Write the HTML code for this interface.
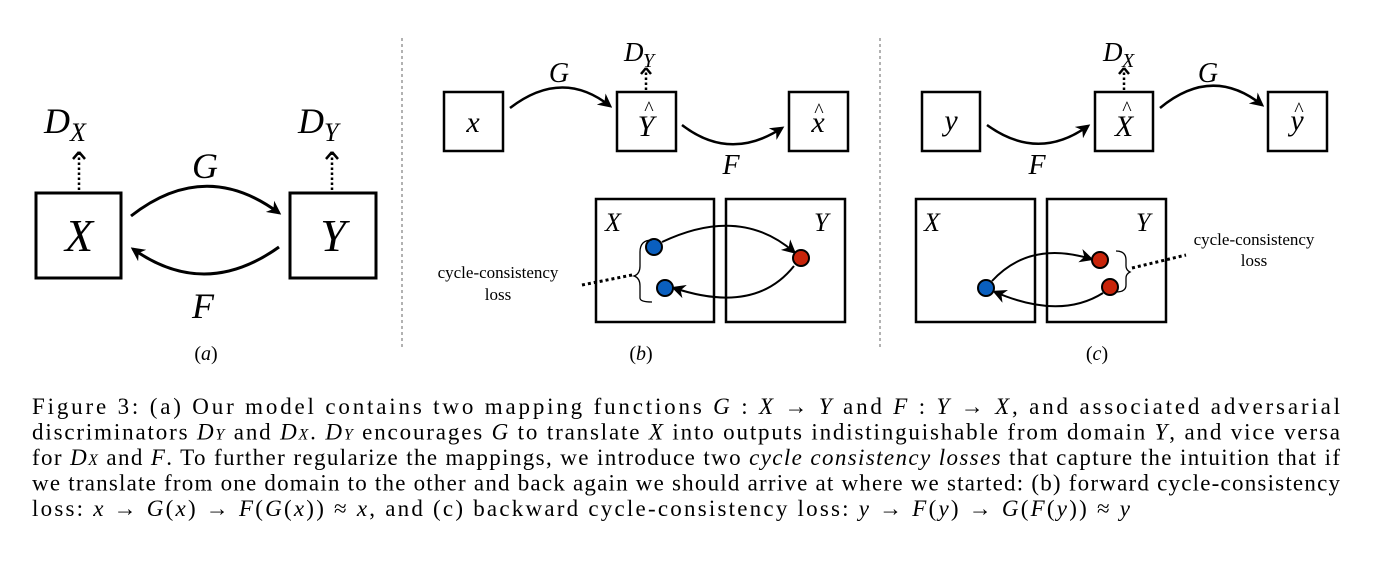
<!DOCTYPE html>
<html><head><meta charset="utf-8"><style>
html,body{margin:0;padding:0;background:#fff;}
svg{display:block;}
.m{font-family:"Liberation Serif",serif;font-style:italic;}
.r{font-family:"Liberation Serif",serif;}
</style></head><body>
<svg width="1374" height="568" viewBox="0 0 1374 568" xmlns="http://www.w3.org/2000/svg">
<defs>
<marker id="ah2" viewBox="0 0 10 10" refX="8" refY="5" markerWidth="14" markerHeight="14" orient="auto" markerUnits="userSpaceOnUse">
<path d="M0,0 L10,5 L0,10 L3,5 Z" fill="#000"/>
</marker>
</defs>
<g fill="none" stroke="#000">
<line x1="402" y1="38" x2="402" y2="350" stroke="#666" stroke-width="1" stroke-dasharray="3,3"/>
<line x1="880" y1="38" x2="880" y2="350" stroke="#666" stroke-width="1" stroke-dasharray="3,3"/>
<rect x="36" y="193" width="85" height="85" stroke-width="3"/>
<rect x="290" y="193" width="86" height="85" stroke-width="3"/>
<line x1="79" y1="190" x2="79" y2="150" stroke-width="2.5" stroke-dasharray="2.5,2.5"/>
<line x1="332" y1="190" x2="332" y2="150" stroke-width="2.5" stroke-dasharray="2.5,2.5"/>
<path d="M79,152 l-6,7 M79,152 l6,7 M332,152 l-6,7 M332,152 l6,7" stroke-width="2.5"/>
<path d="M131,216 Q205,158 279,213" stroke-width="3" marker-end="url(#ah2)"/>
<path d="M279,247 Q205,300 133,249" stroke-width="3" marker-end="url(#ah2)"/>
<rect x="444" y="92" width="59" height="59" stroke-width="2.5"/>
<rect x="617" y="92" width="59" height="59" stroke-width="2.5"/>
<rect x="789" y="92" width="59" height="59" stroke-width="2.5"/>
<line x1="646" y1="90" x2="646" y2="70" stroke-width="2.5" stroke-dasharray="2.5,2.5"/>
<path d="M646,68 l-5,6 M646,68 l5,6" stroke-width="2.5"/>
<path d="M510,108 Q562,68 610,106" stroke-width="2.5" marker-end="url(#ah2)"/>
<path d="M682,125 Q730,162 782,128" stroke-width="2.5" marker-end="url(#ah2)"/>
<rect x="596" y="199" width="118" height="123" stroke-width="2.5"/>
<rect x="726" y="199" width="119" height="123" stroke-width="2.5"/>
<path d="M662,242 Q740,205 794,252" stroke-width="2" marker-end="url(#ah2)"/>
<path d="M794,266 Q755,315 674,288" stroke-width="2" marker-end="url(#ah2)"/>
<circle cx="654" cy="247" r="8" fill="#0a5fbf" stroke-width="2"/>
<circle cx="801" cy="258" r="8" fill="#c8240a" stroke-width="2"/>
<circle cx="665" cy="288" r="8" fill="#0a5fbf" stroke-width="2"/>
<path d="M652,240 Q640,240 640,252 L640,266 Q640,274 634,276 Q640,278 640,286 L640,298 Q640,302 652,302" stroke-width="1.3"/>
<line x1="582" y1="285" x2="632" y2="275" stroke-width="3" stroke-dasharray="3,3"/>
<rect x="922" y="92" width="58" height="59" stroke-width="2.5"/>
<rect x="1095" y="92" width="58" height="59" stroke-width="2.5"/>
<rect x="1268" y="92" width="59" height="59" stroke-width="2.5"/>
<line x1="1124" y1="90" x2="1124" y2="70" stroke-width="2.5" stroke-dasharray="2.5,2.5"/>
<path d="M1124,68 l-5,6 M1124,68 l5,6" stroke-width="2.5"/>
<path d="M987,125 Q1038,162 1088,126" stroke-width="2.5" marker-end="url(#ah2)"/>
<path d="M1160,108 Q1212,65 1262,105" stroke-width="2.5" marker-end="url(#ah2)"/>
<rect x="916" y="199" width="119" height="123" stroke-width="2.5"/>
<rect x="1047" y="199" width="119" height="123" stroke-width="2.5"/>
<path d="M992,281 Q1030,240 1091,259" stroke-width="2" marker-end="url(#ah2)"/>
<path d="M1103,293 Q1060,320 995,292" stroke-width="2" marker-end="url(#ah2)"/>
<circle cx="986" cy="288" r="8" fill="#0a5fbf" stroke-width="2"/>
<circle cx="1100" cy="260" r="8" fill="#c8240a" stroke-width="2"/>
<circle cx="1110" cy="287" r="8" fill="#c8240a" stroke-width="2"/>
<path d="M1116,251 Q1126,251 1126,260 L1126,266 Q1126,270 1130,272 Q1126,274 1126,278 L1126,285 Q1126,292 1116,292" stroke-width="1.3"/>
<line x1="1132" y1="268" x2="1186" y2="255" stroke-width="3" stroke-dasharray="3,3"/>
</g>
<text class="m" x="44" y="133" font-size="36">D</text><text class="m" x="70" y="141" font-size="26">X</text>
<text class="m" x="298" y="133" font-size="36">D</text><text class="m" x="324" y="141" font-size="26">Y</text>
<text class="m" x="205" y="178" font-size="36" text-anchor="middle">G</text>
<text class="m" x="203" y="318" font-size="36" text-anchor="middle">F</text>
<text class="m" x="79" y="251" font-size="46" text-anchor="middle">X</text>
<text class="m" x="333" y="251" font-size="46" text-anchor="middle">Y</text>
<text class="r" x="206" y="360" font-size="20" text-anchor="middle">(<tspan font-style="italic">a</tspan>)</text>
<text class="m" x="473" y="132" font-size="30" text-anchor="middle">x</text>
<text class="m" x="646" y="136" font-size="30" text-anchor="middle">Y</text>
<text class="r" x="649" y="115" font-size="20" text-anchor="middle">^</text>
<text class="m" x="818" y="132" font-size="30" text-anchor="middle">x</text>
<text class="r" x="819" y="117" font-size="20" text-anchor="middle">^</text>
<text class="m" x="624" y="61" font-size="27">D</text><text class="m" x="643" y="67" font-size="20">Y</text>
<text class="m" x="559" y="82" font-size="28" text-anchor="middle">G</text>
<text class="m" x="731" y="174" font-size="28" text-anchor="middle">F</text>
<text class="m" x="605" y="231" font-size="26">X</text>
<text class="m" x="814" y="231" font-size="26">Y</text>
<text class="r" x="498" y="278" font-size="17" text-anchor="middle">cycle-consistency</text>
<text class="r" x="498" y="300" font-size="17" text-anchor="middle">loss</text>
<text class="r" x="641" y="360" font-size="20" text-anchor="middle">(<tspan font-style="italic">b</tspan>)</text>
<text class="m" x="951" y="130" font-size="30" text-anchor="middle">y</text>
<text class="m" x="1124" y="136" font-size="30" text-anchor="middle">X</text>
<text class="r" x="1127" y="115" font-size="20" text-anchor="middle">^</text>
<text class="m" x="1297" y="130" font-size="30" text-anchor="middle">y</text>
<text class="r" x="1299" y="116" font-size="20" text-anchor="middle">^</text>
<text class="m" x="1103" y="61" font-size="27">D</text><text class="m" x="1122" y="67" font-size="20">X</text>
<text class="m" x="1208" y="82" font-size="28" text-anchor="middle">G</text>
<text class="m" x="1037" y="174" font-size="28" text-anchor="middle">F</text>
<text class="m" x="924" y="231" font-size="26">X</text>
<text class="m" x="1136" y="231" font-size="26">Y</text>
<text class="r" x="1254" y="245" font-size="17" text-anchor="middle">cycle-consistency</text>
<text class="r" x="1254" y="266" font-size="17" text-anchor="middle">loss</text>
<text class="r" x="1097" y="360" font-size="20" text-anchor="middle">(<tspan font-style="italic">c</tspan>)</text>
<g class="r" font-size="23">
<text x="32" y="414" textLength="1308" lengthAdjust="spacing">Figure 3: (a) Our model contains two mapping functions <tspan font-style="italic">G</tspan> : <tspan font-style="italic">X</tspan> → <tspan font-style="italic">Y</tspan> and <tspan font-style="italic">F</tspan> : <tspan font-style="italic">Y</tspan> → <tspan font-style="italic">X</tspan>, and associated adversarial</text>
<text x="32" y="439.5" textLength="1308" lengthAdjust="spacing">discriminators <tspan font-style="italic">D</tspan><tspan font-style="italic" font-size="16">Y</tspan> and <tspan font-style="italic">D</tspan><tspan font-style="italic" font-size="16">X</tspan>. <tspan font-style="italic">D</tspan><tspan font-style="italic" font-size="16">Y</tspan> encourages <tspan font-style="italic">G</tspan> to translate <tspan font-style="italic">X</tspan> into outputs indistinguishable from domain <tspan font-style="italic">Y</tspan>, and vice versa</text>
<text x="32" y="465" textLength="1308" lengthAdjust="spacing">for <tspan font-style="italic">D</tspan><tspan font-style="italic" font-size="16">X</tspan> and <tspan font-style="italic">F</tspan>. To further regularize the mappings, we introduce two <tspan font-style="italic">cycle consistency losses</tspan> that capture the intuition that if</text>
<text x="32" y="490.5" textLength="1308" lengthAdjust="spacing">we translate from one domain to the other and back again we should arrive at where we started: (b) forward cycle-consistency</text>
<text x="32" y="516" textLength="1098" lengthAdjust="spacing">loss: <tspan font-style="italic">x</tspan> → <tspan font-style="italic">G</tspan>(<tspan font-style="italic">x</tspan>) → <tspan font-style="italic">F</tspan>(<tspan font-style="italic">G</tspan>(<tspan font-style="italic">x</tspan>)) ≈ <tspan font-style="italic">x</tspan>, and (c) backward cycle-consistency loss: <tspan font-style="italic">y</tspan> → <tspan font-style="italic">F</tspan>(<tspan font-style="italic">y</tspan>) → <tspan font-style="italic">G</tspan>(<tspan font-style="italic">F</tspan>(<tspan font-style="italic">y</tspan>)) ≈ <tspan font-style="italic">y</tspan></text>
</g>
</svg>
</body></html>
